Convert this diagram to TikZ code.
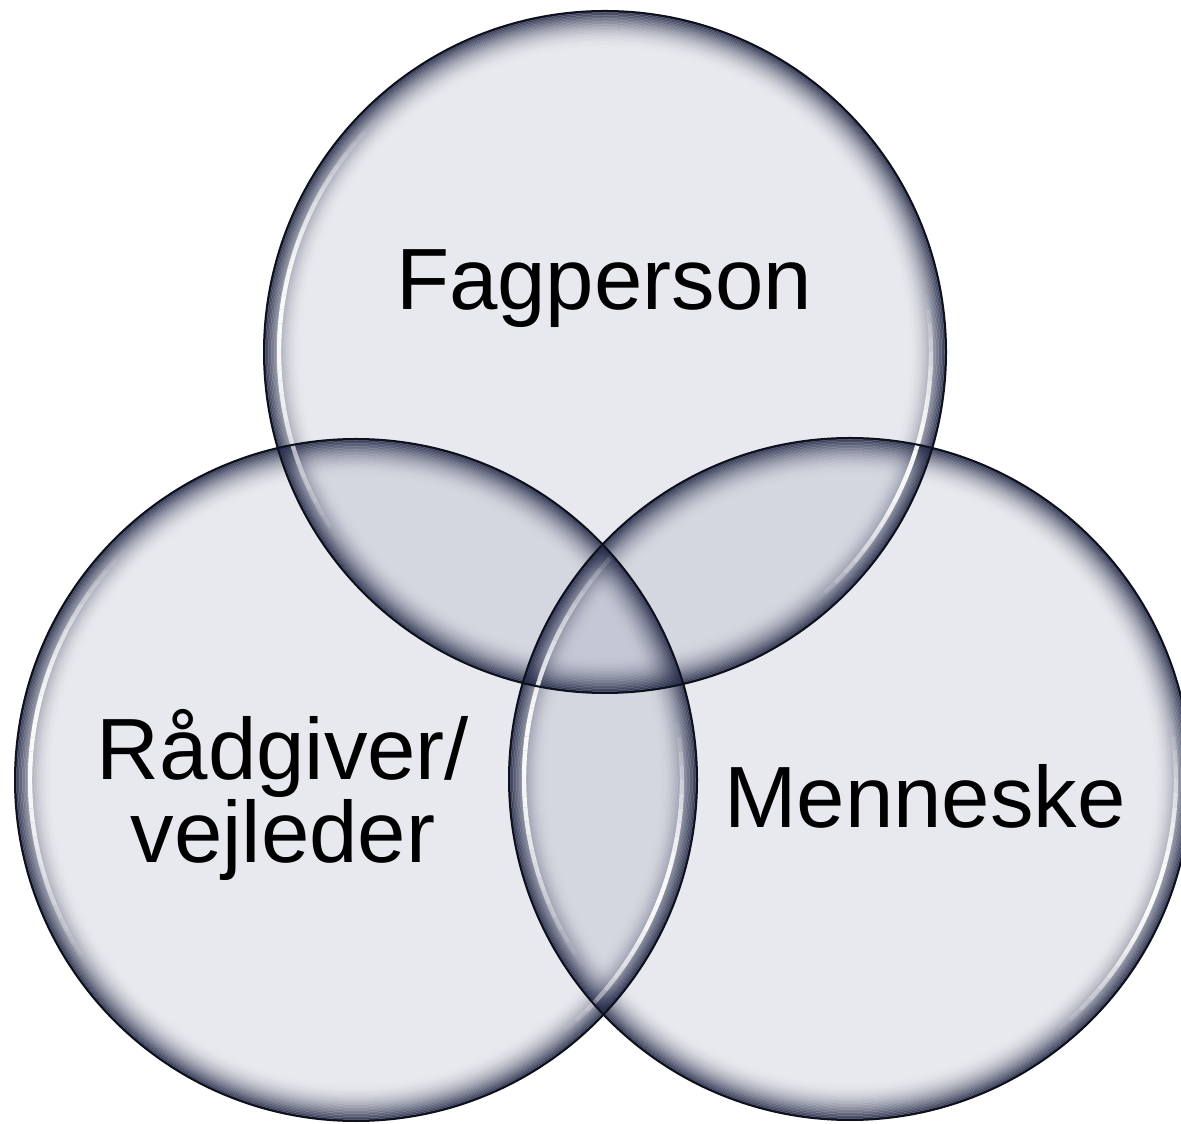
\documentclass[tikz,border=0pt]{standalone}
\usepackage{fontspec}
\setmainfont{Liberation Sans}
\tikzset{>=stealth}
\definecolor{venfill}{RGB}{120,126,155}
\definecolor{venrim}{RGB}{34,40,70}
\definecolor{venline}{RGB}{14,16,28}
\tikzset{
  lbl/.style={font=\fontsize{43.5}{40.5}\selectfont, text=black, inner sep=0pt},
  disc/.style={fill=venfill, fill opacity=0.17},
}

\begin{document}
\begin{tikzpicture}[x=0.5pt,y=0.5pt]
\useasboundingbox (0,0) rectangle (1181,1123);

\pgfmathsetmacro{\rr}{341}
\coordinate (fag) at (605,771);
\coordinate (raad) at (356,343);
\coordinate (men) at (850,344);

% the three discs
\foreach \c in {fag,raad,men}
  \fill[disc] (\c) circle (\rr);

% dark rim inside each disc
\foreach \c in {fag,raad,men}
  \foreach \k in {0,...,25}{
    \pgfmathsetmacro{\op}{0.9*(1-\k/26)^2.2}
    \draw[venrim, line width=0.75pt, draw opacity=\op] (\c) circle ({\rr-0.75-1.5*\k});
  }

% white highlights
\foreach \c in {fag,raad,men}{
  \foreach \a in {135,137.5,...,212.5}{
    \pgfmathsetmacro{\op}{0.95*sin(180*(\a-135+1.25)/80)}
    \draw[white, line width=2.2pt, draw opacity=\op] ([shift={(\a:326)}]\c) arc (\a:\a+2.5:326);
  }
  \foreach \a in {-50,-47.5,...,7.5}{
    \pgfmathsetmacro{\op}{0.95*sin(180*(\a+50+1.25)/60)}
    \draw[white, line width=2.2pt, draw opacity=\op] ([shift={(\a:326)}]\c) arc (\a:\a+2.5:326);
  }
}

% outlines
\foreach \c in {fag,raad,men}
  \draw[venline, line width=1pt] (\c) circle (\rr);

\node[lbl, anchor=base] (fagtxt) at (604,813) {Fagperson};
\node[lbl, anchor=base, align=center] (raadtxt) at (283,260) {Rådgiver/\\vejleder};
\node[lbl, anchor=base] (mentxt) at (925,295) {Menneske};

\end{tikzpicture}
\end{document}
